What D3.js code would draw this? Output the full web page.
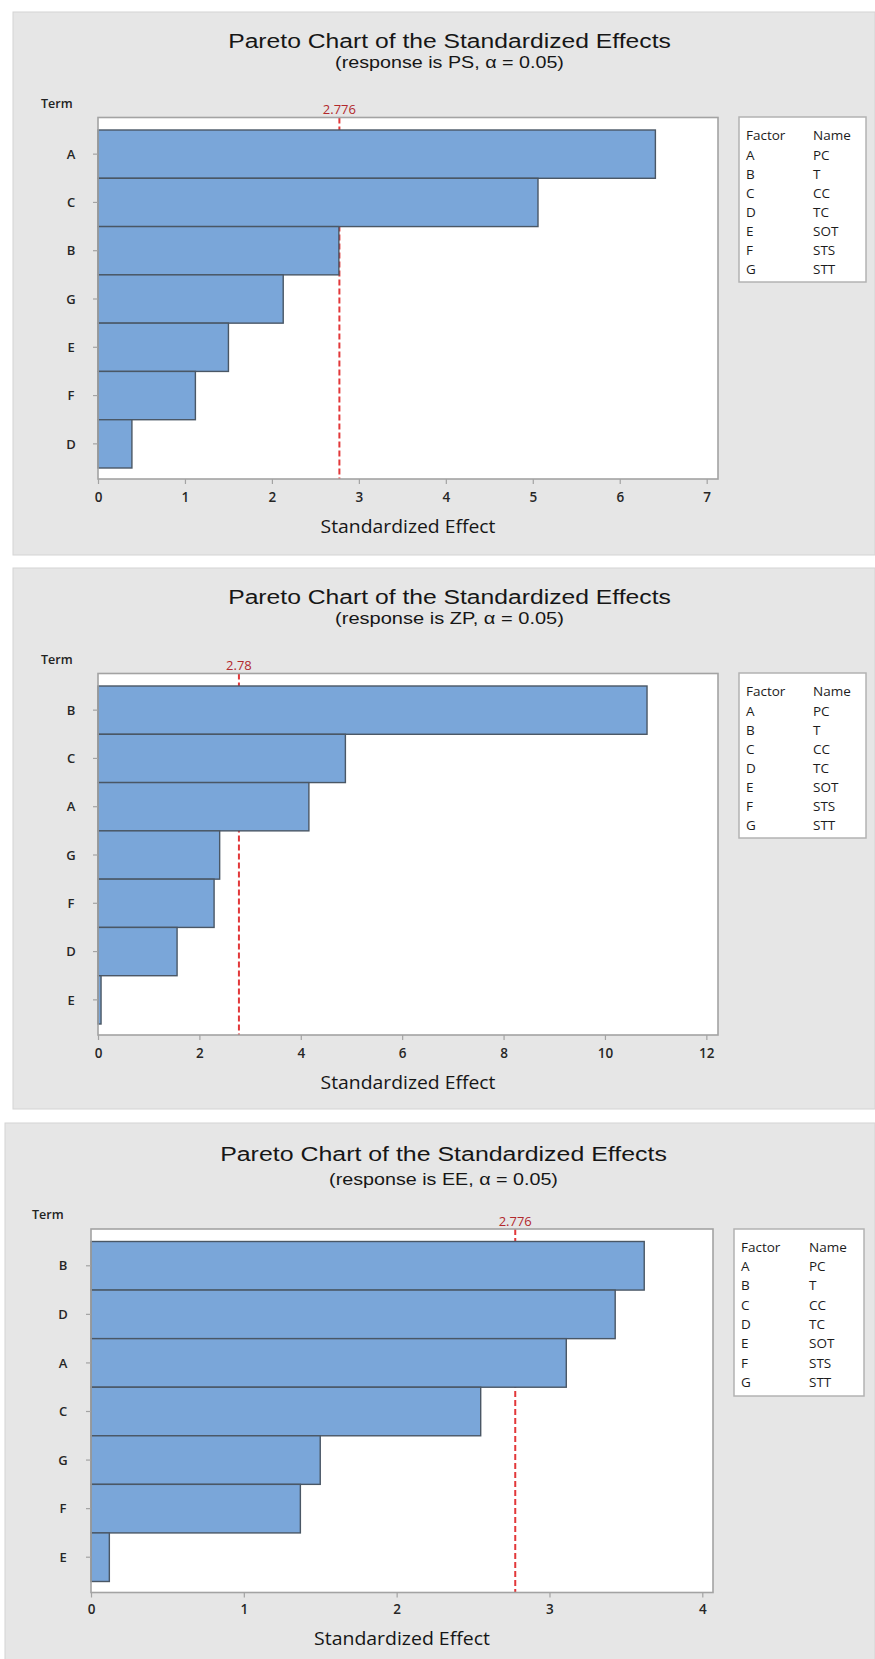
<!DOCTYPE html>
<html>
<head>
<meta charset="utf-8">
<script src="https://cdn.jsdelivr.net/npm/d3@7"></script>
<style>
  html, body { margin: 0; padding: 0; background: #ffffff; }
  svg { display: block; }
</style>
</head>
<body>
<svg id="chart" width="875" height="1659"></svg>
<script>
// Factor legend shared by all three charts
const factorCodes = ["A", "B", "C", "D", "E", "F", "G"];
const factorNames = ["PC", "T", "CC", "TC", "SOT", "STS", "STT"];

// Response PS
const psTerms = ["A", "C", "B", "G", "E", "F", "D"];
const psEffects = [6.41, 5.06, 2.77, 2.13, 1.50, 1.12, 0.39];
const psCritical = 2.776;
const psCriticalLabel = "2.776";
const psTicks = [0, 1, 2, 3, 4, 5, 6, 7];
const psMax = 7.13;

// Response ZP
const zpTerms = ["B", "C", "A", "G", "F", "D", "E"];
const zpEffects = [10.83, 4.88, 4.16, 2.40, 2.29, 1.56, 0.06];
const zpCritical = 2.78;
const zpCriticalLabel = "2.78";
const zpTicks = [0, 2, 4, 6, 8, 10, 12];
const zpMax = 12.23;

// Response EE
const eeTerms = ["B", "D", "A", "C", "G", "F", "E"];
const eeEffects = [3.62, 3.43, 3.11, 2.55, 1.50, 1.37, 0.12];
const eeCritical = 2.776;
const eeCriticalLabel = "2.776";
const eeTicks = [0, 1, 2, 3, 4];
const eeMax = 4.07;

const titleText = "Pareto Chart of the Standardized Effects";
const xTitleText = "Standardized Effect";

const SANS = "'Open Sans', 'Noto Sans', sans-serif";
const TITLE_FONT = "'Liberation Sans', Arial, sans-serif";

const svg = d3.select("#chart");

// Centred text whose glyph height is set by the font size and whose
// width is scaled horizontally to the requested span
function fittedText(parent, cx, y, width, size, family, str, weight) {
  const t = parent.append("text")
    .attr("x", 0).attr("y", 0)
    .attr("text-anchor", "middle")
    .attr("font-family", family)
    .attr("font-size", size)
    .attr("font-weight", weight || 400)
    .attr("fill", "#161616")
    .text(str);
  const w = t.node().getComputedTextLength();
  const s = w > 0 ? width / w : 1;
  t.attr("transform", `translate(${cx},${y}) scale(${s.toFixed(4)},1)`);
  return t;
}

function drawPareto(cfg) {
  const g = svg.append("g");

  // panel background
  g.append("rect")
    .attr("x", cfg.bg[0]).attr("y", cfg.bg[1])
    .attr("width", cfg.bg[2]).attr("height", cfg.bg[3])
    .attr("fill", "#e6e6e6")
    .attr("stroke", "#d4d4d4").attr("stroke-width", 1);

  const f = cfg.frame; // [x0, y0, x1, y1]

  // titles
  fittedText(g, cfg.titleCx, cfg.titleY, cfg.titleW, 21, TITLE_FONT, titleText);
  fittedText(g, cfg.titleCx, cfg.subY, cfg.subW, 16.5, TITLE_FONT,
    `(response is ${cfg.response}, α = 0.05)`);

  g.append("text")
    .attr("x", cfg.termX).attr("y", cfg.termY)
    .attr("font-family", SANS)
    .attr("font-size", 12.5).attr("font-weight", 600)
    .attr("fill", "#222").text("Term");

  // plot area
  g.append("rect")
    .attr("x", f[0]).attr("y", f[1])
    .attr("width", f[2] - f[0]).attr("height", f[3] - f[1])
    .attr("fill", "#ffffff");

  const x = d3.scaleLinear().domain([0, cfg.max]).range([f[0], f[2]]);
  const y = d3.scaleBand().domain(cfg.terms)
    .range([f[1] + 12.5, f[3] - 11]).paddingInner(0).paddingOuter(0);

  const bars = cfg.terms.map((t, i) => ({ term: t, value: cfg.effects[i] }));

  // reference line for the critical effect, behind the bars
  g.append("line")
    .attr("x1", x(cfg.critical)).attr("x2", x(cfg.critical))
    .attr("y1", f[1]).attr("y2", f[3])
    .attr("stroke", "#e2383a").attr("stroke-width", 2)
    .attr("stroke-dasharray", "6,3");

  g.append("text")
    .attr("x", x(cfg.critical)).attr("y", cfg.critY)
    .attr("text-anchor", "middle")
    .attr("font-family", SANS).attr("font-size", 13)
    .attr("fill", "#b2282c").text(cfg.criticalLabel);

  g.selectAll("rect.bar").data(bars).join("rect")
    .attr("class", "bar")
    .attr("x", x(0))
    .attr("y", d => y(d.term))
    .attr("width", d => x(d.value) - x(0))
    .attr("height", y.bandwidth())
    .attr("fill", "#7aa6d9")
    .attr("stroke", "#4a5765").attr("stroke-width", 1.4);

  // frame
  g.append("rect")
    .attr("x", f[0]).attr("y", f[1])
    .attr("width", f[2] - f[0]).attr("height", f[3] - f[1])
    .attr("fill", "none").attr("stroke", "#a3a3a3").attr("stroke-width", 1.6);

  // x axis
  const xAxis = g.append("g")
    .attr("transform", `translate(0,${f[3]})`)
    .call(d3.axisBottom(x).tickValues(cfg.ticks).tickSize(5).tickPadding(0).tickFormat(d3.format("d")));
  xAxis.select(".domain").remove();
  xAxis.selectAll(".tick line").attr("stroke", "#a3a3a3").attr("stroke-width", 1.2);
  xAxis.selectAll(".tick text")
    .attr("y", null).attr("dy", null)
    .attr("transform", `translate(0,${cfg.tickY - f[3]})`)
    .attr("font-family", SANS)
    .attr("font-size", 13.5).attr("font-weight", 600).attr("fill", "#262626");

  // y axis
  const yAxis = g.append("g")
    .attr("transform", `translate(${f[0]},0)`)
    .call(d3.axisLeft(y).tickSize(5).tickPadding(0));
  yAxis.select(".domain").remove();
  yAxis.selectAll(".tick line").attr("stroke", "#a3a3a3").attr("stroke-width", 1.2);
  yAxis.selectAll(".tick text")
    .attr("x", cfg.yLabelX - f[0]).attr("dy", "0.36em")
    .attr("text-anchor", "middle")
    .attr("font-family", SANS)
    .attr("font-size", 13).attr("font-weight", 600).attr("fill", "#262626");

  fittedText(g, (f[0] + f[2]) / 2, cfg.xTitleY, cfg.xTitleW, 19, SANS, xTitleText, 500);

  // factor legend
  const L = cfg.legend; // [x0, y0, x1, y1]
  g.append("rect")
    .attr("x", L[0]).attr("y", L[1])
    .attr("width", L[2] - L[0]).attr("height", L[3] - L[1])
    .attr("fill", "#ffffff").attr("stroke", "#b3b3b3").attr("stroke-width", 1.5);

  const leg = g.append("g")
    .attr("font-family", SANS)
    .attr("font-size", 13.5).attr("fill", "#1c1c1c");
  leg.append("text").attr("x", cfg.legCol1).attr("y", cfg.legHeadY).text("Factor");
  leg.append("text").attr("x", cfg.legCol2).attr("y", cfg.legHeadY).text("Name");
  factorCodes.forEach((c, i) => {
    leg.append("text").attr("x", cfg.legCol1).attr("y", cfg.legRowY + i * cfg.legPitch).text(c);
    leg.append("text").attr("x", cfg.legCol2).attr("y", cfg.legRowY + i * cfg.legPitch).text(factorNames[i]);
  });
}

// layout of the first panel; the second uses the same layout shifted down
const baseLayout = {
  bg: [13, 12, 862, 543],
  frame: [98, 117.5, 718, 479],
  legend: [739, 117, 866, 282],
  titleCx: 449.5, titleY: 48, titleW: 443,
  subY: 67.5, subW: 229,
  termX: 41, termY: 108,
  critY: 114,
  tickY: 502,
  xTitleY: 533, xTitleW: 175,
  yLabelX: 71,
  legCol1: 746, legCol2: 813, legHeadY: 140, legRowY: 159.6, legPitch: 19.1
};

function shifted(layout, dy) {
  const o = Object.assign({}, layout);
  o.bg = [layout.bg[0], layout.bg[1] + dy, layout.bg[2], layout.bg[3] - 2];
  o.frame = [layout.frame[0], layout.frame[1] + dy, layout.frame[2], layout.frame[3] + dy];
  o.legend = [layout.legend[0], layout.legend[1] + dy, layout.legend[2], layout.legend[3] + dy];
  ["titleY", "subY", "termY", "critY", "tickY", "xTitleY", "legHeadY", "legRowY"].forEach(k => o[k] = layout[k] + dy);
  return o;
}

drawPareto(Object.assign({}, baseLayout, {
  response: "PS", terms: psTerms, effects: psEffects,
  critical: psCritical, criticalLabel: psCriticalLabel, ticks: psTicks, max: psMax
}));

drawPareto(Object.assign(shifted(baseLayout, 556), {
  response: "ZP", terms: zpTerms, effects: zpEffects,
  critical: zpCritical, criticalLabel: zpCriticalLabel, ticks: zpTicks, max: zpMax
}));

drawPareto({
  bg: [5, 1123, 870, 540],
  frame: [91, 1229, 713, 1592.5],
  legend: [734, 1229, 864, 1396],
  titleCx: 443.5, titleY: 1161, titleW: 447,
  subY: 1184.5, subW: 229,
  termX: 32, termY: 1219,
  critY: 1225.5,
  tickY: 1614,
  xTitleY: 1645, xTitleW: 176,
  yLabelX: 63,
  legCol1: 741, legCol2: 809, legHeadY: 1252, legRowY: 1271, legPitch: 19.3,
  response: "EE", terms: eeTerms, effects: eeEffects,
  critical: eeCritical, criticalLabel: eeCriticalLabel, ticks: eeTicks, max: eeMax
});
</script>
</body>
</html>
